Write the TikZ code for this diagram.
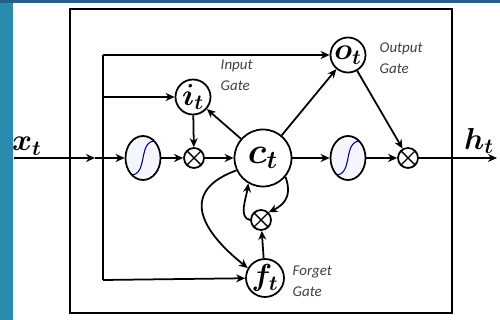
\documentclass[tikz,border=0pt]{standalone}
\usepackage{amsmath,amssymb}
\usepackage{fontspec}
\newfontfamily\gatefont{Carlito}
\usepackage{tikz}
\usetikzlibrary{arrows.meta,shapes.geometric}
\usepackage{xcolor}
\definecolor{slideteal}{HTML}{2A8BAE}
\definecolor{slidenavy}{HTML}{245F8C}

\begin{document}
\begin{tikzpicture}[x=0.2mm,y=-0.2mm,>={Stealth[length=1.8mm,width=1.6mm]},line width=1pt,
  gate/.style={circle,draw,fill=white,minimum size=7mm,inner sep=0pt,font=\LARGE},
  cell/.style={circle,draw,fill=white,minimum size=11.4mm,inner sep=0pt,font=\huge},
  mult/.style={circle,draw,fill=white,minimum size=4mm,inner sep=0pt,
    path picture={\draw[line width=0.8pt] (path picture bounding box.north west) -- (path picture bounding box.south east)
      (path picture bounding box.south west) -- (path picture bounding box.north east);}},
  sig/.style={ellipse,draw,fill=blue!4,minimum width=7mm,minimum height=8.8mm,inner sep=0pt,
    path picture={\draw[blue!45!black,line width=0.6pt] ([shift={(-2.6mm,-3.4mm)}]path picture bounding box.center)
      .. controls ([shift={(1.2mm,-3.6mm)}]path picture bounding box.center) and ([shift={(-1.2mm,3.6mm)}]path picture bounding box.center)
      .. ([shift={(2.6mm,3.4mm)}]path picture bounding box.center);}},
  lbl/.style={anchor=west,align=left,font=\gatefont\itshape\fontsize{8.5}{10}\selectfont,text=black!75}]
\useasboundingbox (0,0) rectangle (500,320);
\fill[white] (0,0) rectangle (500,320);
\fill[slideteal] (0,0) rectangle (13,320);
\fill[slidenavy] (0,0) rectangle (500,3);
\draw[line width=1.3pt] (70,9) rectangle (452,313);

\coordinate (in) at (14,158);
\coordinate (k) at (95,158);
\coordinate (out) at (497,158);
\coordinate (top) at (103,55);
\coordinate (mid) at (103,97);
\coordinate (bot) at (103,280);

\node[font=\LARGE] (xt) at (27,146) {$\boldsymbol{x_t}$};
\node[font=\LARGE] (ht) at (479,141) {$\boldsymbol{h_t}$};
\node[sig] (sig1) at (143,158) {};
\node[mult] (m1) at (194,158) {};
\node[cell] (c) at (263,158) {$\boldsymbol{c_t}$};
\node[sig] (sig2) at (348,158) {};
\node[mult] (m2) at (408,158) {};
\node[gate] (i) at (193,97) {$\boldsymbol{i_t}$};
\node[gate] (o) at (348,55) {$\boldsymbol{o_t}$};
\node[mult] (m3) at (261,220) {};
\node[gate] (f) at (265,278) {$\boldsymbol{f_t}$};
\node[lbl] (ilbl) at (214,75) {Input\\[2pt]Gate};
\node[lbl] (olbl) at (373,58) {Output\\[2pt]Gate};
\node[lbl] (flbl) at (286,281) {Forget\\[2pt]Gate};

\draw[->] (in) -- (k);
\draw[->] (k) -- (sig1);
\draw (top) -- (bot);
\draw[->] (top) -- (o);
\draw[->] (mid) -- (i);
\draw[->] (bot) -- (f);
\draw[->] (sig1) -- (m1);
\draw[->] (i) -- (m1);
\draw[->] (m1) -- (c);
\draw[->] (c) -- (i);
\draw[->] (c) -- (o);
\draw[->] (c) -- (sig2);
\draw[->] (sig2) -- (m2);
\draw[->] (o) -- (m2);
\draw[->] (m2) -- (out);
\draw[->] (f) -- (m3);
\draw[->] (c.-40) .. controls +(8,22) and +(12,-6) .. (m3.north east);
\draw[->] (m3.west) .. controls +(-12,-2) and +(-2,14) .. (c.-120);
\draw[->] (c.-155) .. controls +(-55,20) and +(-50,-40) .. (f.150);
\end{tikzpicture}
\end{document}
